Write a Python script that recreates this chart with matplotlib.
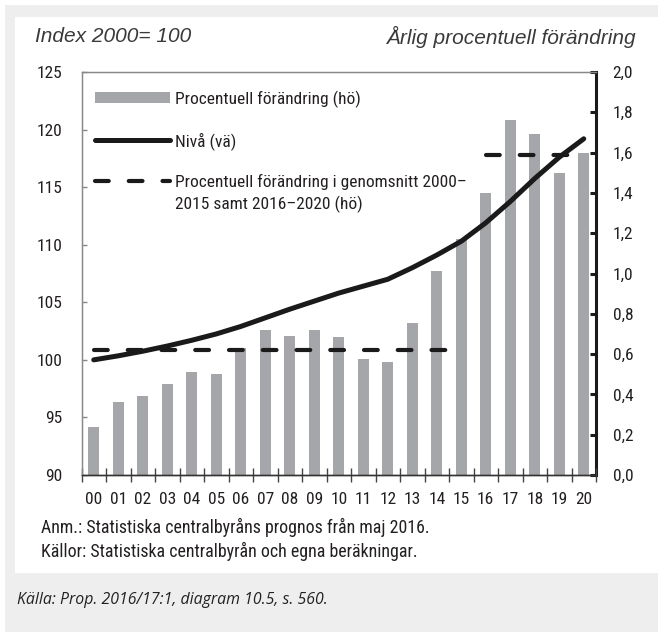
import matplotlib
matplotlib.use("Agg")
import matplotlib.pyplot as plt
from matplotlib import font_manager as fm
from matplotlib.patches import Rectangle
from matplotlib.lines import Line2D
from matplotlib.ticker import FixedLocator, FuncFormatter

# ---------------- data ----------------
years = ["00", "01", "02", "03", "04", "05", "06", "07", "08", "09", "10",
         "11", "12", "13", "14", "15", "16", "17", "18", "19", "20"]
pct_change = [0.24, 0.36, 0.39, 0.45, 0.51, 0.50, 0.63, 0.72, 0.69, 0.72, 0.685,
              0.575, 0.56, 0.755, 1.01, 1.17, 1.40, 1.76, 1.69, 1.50, 1.60]
level = [100.0, 100.35, 100.75, 101.2, 101.7, 102.25, 102.9, 103.65, 104.4, 105.1, 105.8,
         106.4, 107.0, 108.0, 109.1, 110.3, 111.9, 113.75, 115.75, 117.6, 119.2]
avg_period1 = ["00", "15"]
avg_value1 = 0.62
avg_period2 = ["16", "20"]
avg_value2 = 1.59

left_ticks = [90, 95, 100, 105, 110, 115, 120, 125]
right_ticks = [0.0, 0.2, 0.4, 0.6, 0.8, 1.0, 1.2, 1.4, 1.6, 1.8, 2.0]

label_bar = "Procentuell förändring (hö)"
label_level = "Nivå (vä)"
label_avg_line1 = "Procentuell förändring i genomsnitt 2000–"
label_avg_line2 = "2015 samt 2016–2020 (hö)"
title_left = "Index 2000= 100"
title_right = "Årlig procentuell förändring"
note1 = "Anm.: Statistiska centralbyråns prognos från maj 2016."
note2 = "Källor: Statistiska centralbyrån och egna beräkningar."
source = "Källa: Prop. 2016/17:1, diagram 10.5, s. 560."


def pick(*names):
    for n in names:
        try:
            fm.findfont(fm.FontProperties(family=n), fallback_to_default=False)
            return n
        except Exception:
            pass
    return "DejaVu Sans"


COND = pick("Liberation Sans Narrow", "Roboto Condensed", "DejaVu Sans")
HEAD = pick("Liberation Sans", "DejaVu Sans")
SRC = pick("Open Sans", "Noto Sans", "DejaVu Sans")

TXT = "#231f20"
BAR = "#a5a6aa"
FS = 12.5

W, H = 658, 633
fig = plt.figure(figsize=(W / 100, H / 100), dpi=100)
fig.patch.set_facecolor("white")

# background frame
fig.patches.append(Rectangle((5 / W, 1 - 632 / H), 1 - 5 / W, (632 - 5) / H,
                             transform=fig.transFigure, facecolor="#eeeeee",
                             edgecolor="none", zorder=-10))
fig.patches.append(Rectangle((15 / W, 1 - 573 / H), 1 - 15 / W, (573 - 17) / H,
                             transform=fig.transFigure, facecolor="white",
                             edgecolor="none", zorder=-9))

L, R, T, B = 81.5, 596, 72, 475
ax = fig.add_axes([L / W, 1 - B / H, (R - L) / W, (B - T) / H])
ax2 = ax.twinx()

x = list(range(len(years)))

# bars on right axis
ax2.bar(x, pct_change, width=0.45, color=BAR, zorder=1)
# average dashed lines
i0, i1 = years.index(avg_period1[0]), years.index(avg_period1[1])
j0, j1 = years.index(avg_period2[0]), years.index(avg_period2[1])
dash_kw = dict(color="#1a1a1a", lw=3.0, dashes=(3.3, 4.8), dash_capstyle="round", zorder=2)
ax2.plot([i0, i1], [avg_value1, avg_value1], **dash_kw)
ax2.plot([j0, j1], [avg_value2, avg_value2], **dash_kw)

# level on left axis
ax.plot(x, level, color="#1a1a1a", lw=3.6, solid_capstyle="round", zorder=3)

ax.set_zorder(ax2.get_zorder() + 1)
ax.patch.set_visible(False)

ax.set_xlim(-0.5, len(years) - 0.5)
ax.set_ylim(90, 125)
ax2.set_ylim(0, 2.0)

# ticks
ax.set_yticks(left_ticks)
ax.set_yticklabels([str(v) for v in left_ticks])
ax2.yaxis.set_major_locator(FixedLocator(right_ticks))
ax2.yaxis.set_major_formatter(FuncFormatter(lambda v, p: f"{v:.1f}".replace(".", ",")))

ax.set_xticks([i - 0.5 for i in range(len(years) + 1)])
ax.set_xticklabels([])
ax.set_xticks(x, minor=True)
ax.set_xticklabels(years, minor=True)
ax.tick_params(axis="x", which="major", direction="inout", length=10, width=1, color="#444444")
ax.tick_params(axis="x", which="minor", length=0, pad=12, labelsize=FS, labelcolor=TXT)
ax.tick_params(axis="y", direction="in", length=3.5, width=1, color="#888888",
               labelsize=FS, labelcolor=TXT, pad=14)
ax2.tick_params(axis="y", direction="in", length=4.5, width=2.2, color="#1a1a1a",
                labelsize=FS, labelcolor=TXT, pad=12)
for lab in ax.get_xticklabels(minor=True) + ax.get_yticklabels() + ax2.get_yticklabels():
    lab.set_family(COND)

# spines
for a in (ax, ax2):
    a.spines["top"].set_color("#888888")
    a.spines["top"].set_linewidth(0.9)
    a.spines["left"].set_color("#888888")
    a.spines["left"].set_linewidth(0.9)
    a.spines["bottom"].set_color("#333333")
    a.spines["bottom"].set_linewidth(1.0)
ax.spines["right"].set_visible(False)
ax2.spines["right"].set_color("#1a1a1a")
ax2.spines["right"].set_linewidth(2.2)

# legend
handles = [
    Rectangle((0, 0), 1, 1, facecolor=BAR, edgecolor="none"),
    Line2D([], [], color="#1a1a1a", lw=3.6, solid_capstyle="round"),
    Line2D([], [], color="#1a1a1a", lw=3.0, dashes=(3.3, 4.8), dash_capstyle="round"),
]
leg = ax.legend(handles, [label_bar, label_level, label_avg_line1], loc="upper left",
                bbox_to_anchor=(-0.004, 0.993), frameon=False, handlelength=4.3,
                handleheight=0.55, handletextpad=0.3, labelspacing=1.38,
                prop=fm.FontProperties(family=COND, size=FS))
for t in leg.get_texts():
    t.set_color(TXT)

# second line of the third legend label, placed under the first line
fig.canvas.draw()
renderer = fig.canvas.get_renderer()
bb = leg.get_texts()[2].get_window_extent(renderer)
fig.text(bb.x0 / W, (bb.y0 - 23 + bb.height / 2) / H, label_avg_line2, ha="left",
         va="center", family=COND, fontsize=FS, color=TXT)

# headers
fig.text(35 / W, 1 - 37 / H, title_left, ha="left", va="center", family=HEAD,
         style="italic", fontsize=15, color="#3a3a3a")
fig.text(636 / W, 1 - 37 / H, title_right, ha="right", va="center", family=HEAD,
         style="italic", fontsize=15, color="#3a3a3a")

# notes
fig.text(41 / W, 1 - 527 / H, note1, ha="left", va="center", family=COND,
         fontsize=12.9, color=TXT)
fig.text(41 / W, 1 - 551 / H, note2, ha="left", va="center", family=COND,
         fontsize=12.9, color=TXT)
fig.text(17 / W, 1 - 600 / H, source, ha="left", va="center", family=SRC,
         style="italic", fontsize=11.4, color="#222222")

fig.savefig("out.png", dpi=100)
